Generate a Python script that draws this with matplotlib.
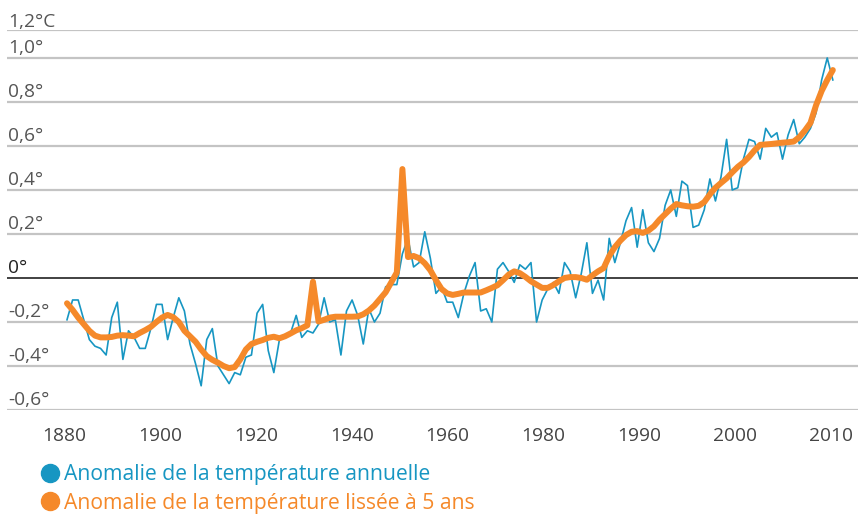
import numpy as np
import matplotlib
matplotlib.use('Agg')
import matplotlib.pyplot as plt
from matplotlib.lines import Line2D

plt.rcParams['font.family'] = ['Open Sans', 'DejaVu Sans']

# ====================================================================
# Données
# ====================================================================
annees = np.arange(1880, 2018)

annuelle = [
    -0.19, -0.10, -0.10, -0.19, -0.28, -0.31, -0.32, -0.35, -0.18, -0.11,
    -0.37, -0.24, -0.27, -0.32, -0.32, -0.23, -0.12, -0.12, -0.28, -0.18,
    -0.09, -0.15, -0.30, -0.39, -0.49, -0.28, -0.23, -0.40, -0.44, -0.48,
    -0.43, -0.44, -0.36, -0.35, -0.16, -0.12, -0.33, -0.43, -0.28, -0.27,
    -0.25, -0.17, -0.27, -0.24, -0.25, -0.21, -0.09, -0.20, -0.19, -0.35,
    -0.15, -0.10, -0.17, -0.30, -0.14, -0.20, -0.16, -0.04, -0.03, -0.03,
    0.11, 0.18, 0.05, 0.07, 0.21, 0.09, -0.07, -0.04, -0.11, -0.11,
    -0.18, -0.07, 0.01, 0.07, -0.15, -0.14, -0.20, 0.04, 0.07, 0.03,
    -0.02, 0.06, 0.04, 0.07, -0.20, -0.10, -0.05, -0.02, -0.07, 0.07,
    0.03, -0.09, 0.02, 0.16, -0.07, -0.01, -0.10, 0.18, 0.07, 0.16,
    0.26, 0.32, 0.14, 0.31, 0.16, 0.12, 0.18, 0.33, 0.40, 0.28,
    0.44, 0.42, 0.23, 0.24, 0.31, 0.45, 0.35, 0.46, 0.63, 0.40,
    0.41, 0.54, 0.63, 0.62, 0.54, 0.68, 0.64, 0.66, 0.54, 0.65,
    0.72, 0.61, 0.64, 0.68, 0.75, 0.90, 1.00, 0.90,
]

lissee = [
    -0.115, -0.145, -0.18, -0.21, -0.24, -0.262, -0.27, -0.27, -0.268, -0.262,
    -0.26, -0.262, -0.265, -0.25, -0.237, -0.222, -0.20, -0.18, -0.168, -0.178,
    -0.20, -0.24, -0.265, -0.29, -0.325, -0.355, -0.372, -0.385, -0.40, -0.41,
    -0.405, -0.37, -0.325, -0.30, -0.29, -0.282, -0.272, -0.267, -0.274, -0.265,
    -0.252, -0.238, -0.228, -0.215, -0.017, -0.198, -0.19, -0.18, -0.176, -0.176,
    -0.176, -0.176, -0.175, -0.165, -0.148, -0.125, -0.095, -0.065, -0.02, 0.025,
    0.495, 0.095, 0.10, 0.09, 0.067, 0.035, -0.01, -0.05, -0.07, -0.077,
    -0.072, -0.066, -0.066, -0.066, -0.066, -0.056, -0.045, -0.033, -0.01, 0.015,
    0.03, 0.022, 0.005, -0.015, -0.03, -0.045, -0.045, -0.032, -0.015, 0.0,
    0.004, 0.004, 0.0, -0.008, 0.012, 0.03, 0.045, 0.10, 0.14, 0.17,
    0.195, 0.21, 0.213, 0.205, 0.215, 0.235, 0.265, 0.29, 0.315, 0.336,
    0.33, 0.326, 0.324, 0.328, 0.345, 0.38, 0.41, 0.432, 0.453, 0.48,
    0.505, 0.525, 0.55, 0.58, 0.605, 0.607, 0.609, 0.612, 0.615, 0.617,
    0.62, 0.64, 0.67, 0.705, 0.785, 0.85, 0.90, 0.945,
]

x_labels = ['1880', '1900', '1920', '1940', '1960', '1980', '1990', '2000', '2010']
y_values = [-0.6, -0.4, -0.2, 0.0, 0.2, 0.4, 0.6, 0.8, 1.0, 1.127]
y_labels = ['-0,6°', '-0,4°', '-0,2°', '0°', '0,2°', '0,4°', '0,6°', '0,8°', '1,0°', '1,2°C']

BLEU = '#1796c2'
ORANGE = '#f5892a'

# ====================================================================
# Figure
# ====================================================================
W, H = 858, 515
fig = plt.figure(figsize=(W / 100, H / 100), dpi=100)
ax = fig.add_axes([7 / W, 1 - 410 / H, 1 - 7 / W, 380 / H])

px_an = 5.59  # pixels par année
ax.set_xlim(1880 - 60 / px_an, 1880 + (W - 67) / px_an)
ax.set_ylim(-0.6, 1.127)

for v in y_values:
    if v == 0:
        ax.axhline(v, color='#333333', lw=1.3, zorder=1)
    else:
        ax.axhline(v, color='#c4c4c4', lw=1.6, zorder=1)

for v, lab in zip(y_values, y_labels):
    col = '#222222' if v == 0 else '#555555'
    off = 2.5 if v > 1.05 else 3.5
    ax.annotate(lab, xy=(0, v), xycoords=('axes fraction', 'data'),
                xytext=(1, off), textcoords='offset points',
                ha='left', va='baseline', fontsize=13.8, color=col,
                annotation_clip=False)

ax.plot(annees, annuelle, color=BLEU, lw=1.2, zorder=2)
ax.plot(annees, lissee, color=ORANGE, lw=4.3, zorder=3,
        solid_capstyle='round', solid_joinstyle='round')

x_ticks = np.linspace(1879.5, 2016.7, len(x_labels))
ax.set_xticks(x_ticks)
ax.set_xticklabels(x_labels, fontsize=13.8, color='#444444')
ax.tick_params(axis='x', length=0, pad=12)
ax.set_yticks([])
for s in ax.spines.values():
    s.set_visible(False)

handles = [
    Line2D([], [], marker='o', ls='', color=BLEU, markersize=13),
    Line2D([], [], marker='o', ls='', color=ORANGE, markersize=13),
]
fig.legend(handles,
           ['Anomalie de la température annuelle',
            'Anomalie de la température lissée à 5 ans'],
           loc='upper left', bbox_to_anchor=(38 / W, 1 - 464 / H),
           frameon=False, fontsize=15.2, labelcolor=[BLEU, ORANGE],
           handletextpad=0.15, labelspacing=0.36, borderpad=0,
           handlelength=1.1, borderaxespad=0)

fig.savefig('out.png', dpi=100)
